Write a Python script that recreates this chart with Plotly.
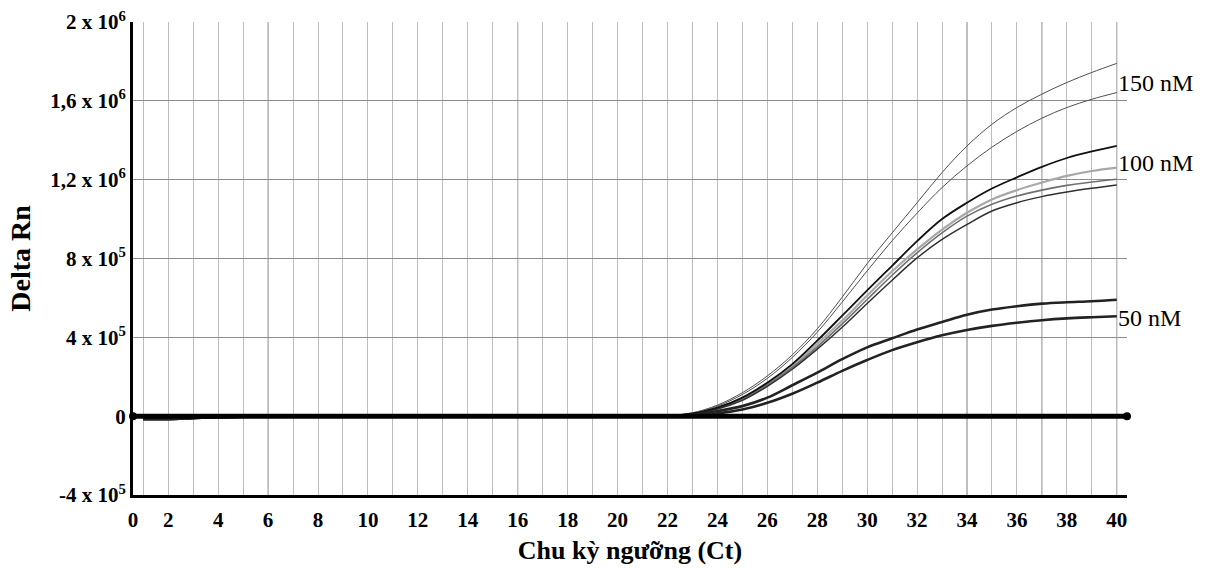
import plotly.graph_objects as go

# ---------------- data ----------------
cycles = list(range(1, 41))

# shared pre-amplification baseline readings (cycles 1..22)
baseline_early = [-15000, -15000, -10000, -5000, -3000, -1000, 0, 0, 0, 0, 0,
                  0, 0, 0, 0, -2000, -2000, -2000, 0, 0, 0, 0]

# amplification readings, cycles 23..40
c150_a = [17000, 56000, 119000, 204000, 311000, 443000, 604000, 774000, 930000,
          1083000, 1236000, 1371000, 1481000, 1566000, 1634000, 1693000, 1744000, 1790000]
c150_b = [15000, 51000, 110000, 192000, 298000, 426000, 579000, 737000, 890000,
          1030000, 1160000, 1270000, 1365000, 1445000, 1512000, 1566000, 1608000, 1642000]
c100_a = [14000, 43000, 94000, 170000, 264000, 383000, 510000, 638000, 763000,
          888000, 1000000, 1083000, 1155000, 1212000, 1265000, 1310000, 1343000, 1371000]
c100_b = [14000, 43000, 90000, 165000, 255000, 366000, 485000, 612000, 735000,
          846000, 947000, 1032000, 1100000, 1147000, 1185000, 1219000, 1244000, 1261000]
c100_c = [13000, 39000, 85000, 158000, 247000, 352000, 468000, 592000, 715000,
          829000, 930000, 1015000, 1075000, 1117000, 1147000, 1171000, 1188000, 1202000]
c100_d = [12000, 36000, 80000, 151000, 238000, 340000, 451000, 572000, 690000,
          803000, 897000, 973000, 1041000, 1083000, 1114000, 1137000, 1156000, 1173000]
c50_a = [8000, 26000, 51000, 94000, 157000, 221000, 289000, 349000, 395000,
         440000, 478000, 515000, 541000, 558000, 571000, 578000, 583000, 591000]
c50_b = [5000, 14000, 34000, 68000, 114000, 170000, 230000, 285000, 335000,
         375000, 410000, 437000, 458000, 474000, 487000, 496000, 502000, 507000]

# no-template baseline spanning the whole axis
ntc_x = [0.587, 40.41]
ntc_y = [0, 0]

y_tickvals = [-400000, 0, 400000, 800000, 1200000, 1600000, 2000000]
y_ticktext = ["-4 x 10<sup>5</sup>", "0", "4 x 10<sup>5</sup>", "8 x 10<sup>5</sup>",
              "1,2 x 10<sup>6</sup>", "1,6 x 10<sup>6</sup>", "2 x 10<sup>6</sup>"]
x_ticktext = [str(v) for v in range(0, 41, 2)]

series_labels = ["150 nM", "100 nM", "50 nM"]
label_y = [1690000, 1285000, 500000]

dark_grid_cycles = [6, 16, 23, 34, 37, 40]

# ---------------- figure ----------------
FONT = "Liberation Serif"
x_range = [ntc_x[0], ntc_x[1]]

fig = go.Figure()

for c in dark_grid_cycles:
    fig.add_vline(x=c, line=dict(color="#808080", width=1), layer="below")

styles = [
    (c150_a, "#505050", 1.0),
    (c150_b, "#505050", 1.0),
    (c100_b, "#a8a8a8", 2.2),
    (c100_c, "#707070", 1.6),
    (c100_d, "#303030", 1.5),
    (c100_a, "#111111", 1.8),
    (c50_b, "#222222", 2.6),
    (c50_a, "#222222", 2.6),
]
for vals, col, w in styles:
    fig.add_trace(go.Scatter(
        x=cycles, y=baseline_early + vals, mode="lines",
        line=dict(color=col, width=w, shape="spline", smoothing=1.0),
        hoverinfo="skip", showlegend=False))

fig.add_trace(go.Scatter(
    x=ntc_x, y=ntc_y, mode="lines+markers",
    line=dict(color="black", width=5),
    marker=dict(color="black", size=8),
    cliponaxis=False, showlegend=False, hoverinfo="skip"))

for txt, yv in zip(series_labels, label_y):
    fig.add_annotation(x=cycles[-1], y=yv, text=txt, xanchor="left", yanchor="middle",
                       xshift=-1, showarrow=False,
                       font=dict(family=FONT, size=24, color="black"))

fig.update_layout(
    width=1208, height=568,
    margin=dict(l=133, r=81, t=22, b=73),
    plot_bgcolor="white", paper_bgcolor="white",
    font=dict(family=FONT, color="black"),
    xaxis=dict(
        range=x_range, automargin=False,
        tickmode="array",
        tickvals=[x_range[0]] + list(range(2, 41, 2)),
        ticktext=x_ticktext,
        tickfont=dict(family=FONT, size=21, color="black", weight="bold"),
        ticklabelstandoff=4,
        showgrid=True, gridcolor="#bdbdbd", gridwidth=1,
        minor=dict(tick0=1, dtick=1, showgrid=True, gridcolor="#bdbdbd", gridwidth=1),
        showline=True, linecolor="black", linewidth=3,
        zeroline=False, ticks="",
        title=dict(text="<b>Chu kỳ ngưỡng (Ct)</b>", standoff=10,
                   font=dict(family=FONT, size=26, color="black")),
    ),
    yaxis=dict(
        range=[-400000, 2000000], automargin=False,
        tickmode="array",
        tickvals=y_tickvals,
        ticktext=y_ticktext,
        tickfont=dict(family=FONT, size=21, color="black", weight="bold"),
        showgrid=True, gridcolor="#8c8c8c", gridwidth=1,
        showline=True, linecolor="black", linewidth=3,
        zeroline=False, ticks="",
        title=dict(text="<b>Delta Rn</b>", standoff=12,
                   font=dict(family=FONT, size=28, color="black")),
    ),
)

fig.write_html("out.html", config={"displayModeBar": False},
               post_script="document.body.style.margin='0';")
